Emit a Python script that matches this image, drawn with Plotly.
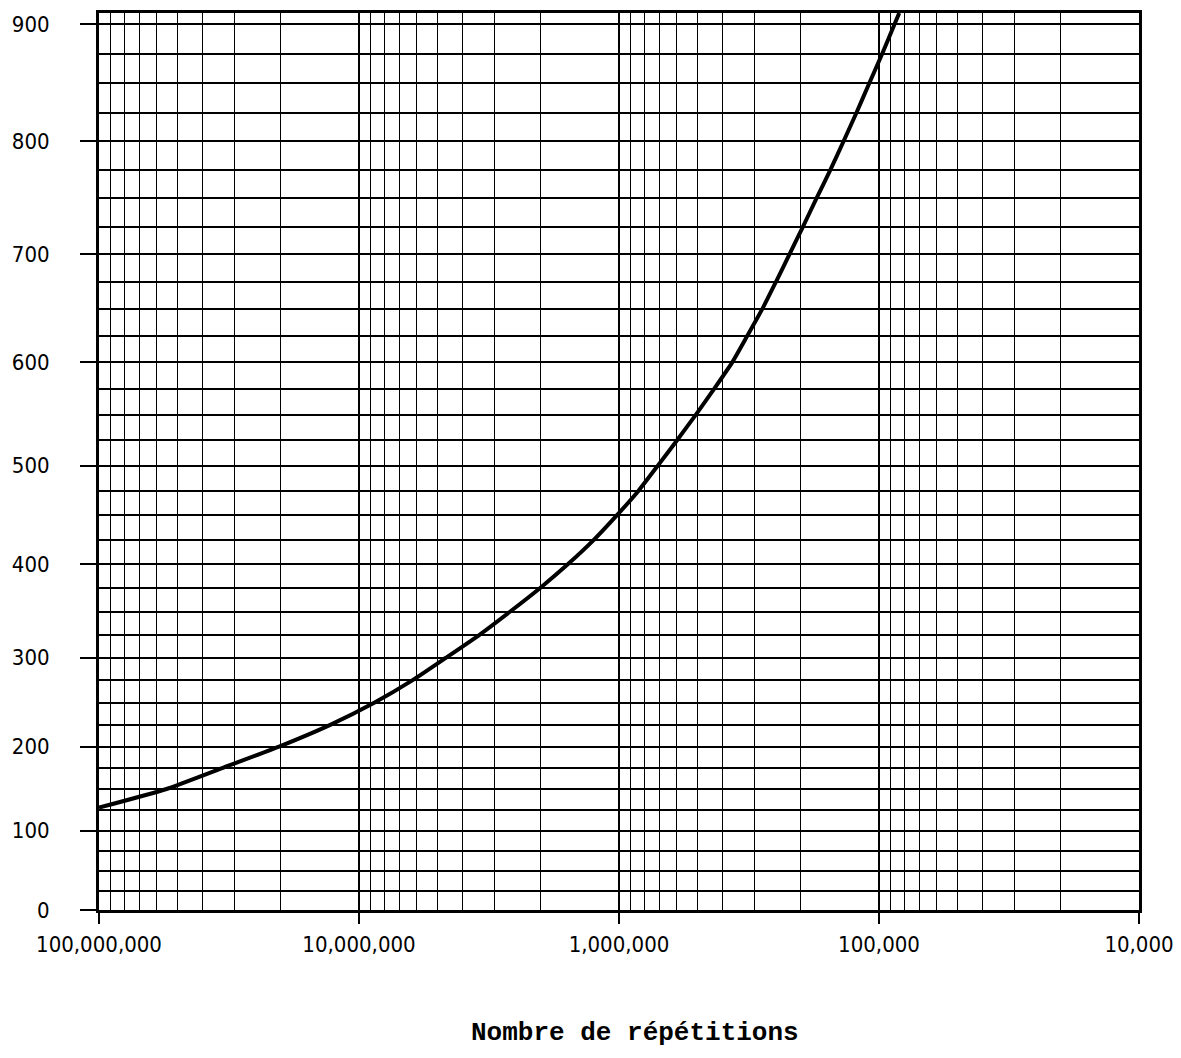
import plotly.graph_objects as go

# ---- data ----
repetitions = [1.0e8, 5.54e7, 3.36e7, 2.03e7, 1.29e7, 8.74e6, 6.24e6, 4.63e6, 3.44e6,
               2.62e6, 2.01e6, 1.57e6, 1.25e6, 1.02e6, 8.41e5, 7.09e5, 5.98e5,
               5.06e5, 4.30e5, 3.67e5, 3.21e5, 2.81e5, 2.49e5, 2.21e5, 1.96e5,
               1.74e5, 1.54e5, 1.37e5, 1.22e5, 1.09e5, 9.72e4, 8.70e4, 8.36e4]
values = [128, 150, 175, 200, 225, 250, 275, 300, 325,
          350, 375, 400, 425, 450, 475, 500, 525,
          550, 575, 600, 625, 650, 675, 700, 725,
          750, 775, 800, 825, 850, 875, 900, 909]

x_major = [1e8, 1e7, 1e6, 1e5, 1e4]
x_labels = ["100,000,000", "10,000,000", "1,000,000", "100,000", "10,000"]
y_major = [0, 100, 200, 300, 400, 500, 600, 700, 800, 900]
y_labels = ["0", "100", "200", "300", "400", "500", "600", "700", "800", "900"]
y_minor = [v for v in range(25, 900, 25) if v % 100 != 0]
y_top = 909
x_title = "Nombre de répétitions"

# The reference's vertical scale is not uniform: intervals widen upward.
# Model it as a quadratic scale s(v) = v + K*v^2 (fitted to the tick positions).
K = 0.0003117


def yscale(v):
    return v + K * v * v


x_minor = [k * 10 ** e for e in range(4, 8) for k in range(2, 10)]

fig = go.Figure()
fig.add_trace(go.Scatter(
    x=repetitions,
    y=[yscale(v) for v in values],
    mode="lines",
    line=dict(color="black", width=4, shape="spline", smoothing=0.5),
    hoverinfo="skip",
    showlegend=False,
))

tick_font = dict(family="DejaVu Sans Condensed, DejaVu Sans, sans-serif",
                 size=22, color="black")

fig.update_xaxes(
    type="log",
    range=[8, 4],
    tickmode="array",
    tickvals=x_major,
    ticktext=x_labels,
    ticks="outside",
    ticklen=11,
    tickwidth=2,
    tickcolor="black",
    showgrid=True,
    gridcolor="black",
    gridwidth=1.6,
    minor=dict(tickmode="array", tickvals=x_minor, showgrid=True,
               gridcolor="black", gridwidth=1.2, ticks=""),
    showline=True,
    linecolor="black",
    linewidth=3,
    mirror=True,
    zeroline=False,
    tickfont=tick_font,
    ticklabelstandoff=2,
    ticklabeloverflow="allow",
    automargin=False,
)

fig.update_yaxes(
    range=[0, yscale(y_top)],
    tickmode="array",
    tickvals=[yscale(v) for v in y_major],
    ticktext=y_labels,
    ticks="outside",
    ticklen=16,
    tickwidth=2,
    tickcolor="black",
    showgrid=True,
    gridcolor="black",
    gridwidth=2,
    minor=dict(tickmode="array", tickvals=[yscale(v) for v in y_minor],
               showgrid=True, gridcolor="black", gridwidth=2, ticks=""),
    showline=True,
    linecolor="black",
    linewidth=3,
    mirror=True,
    zeroline=False,
    tickfont=tick_font,
    ticklabelstandoff=26,
    ticklabeloverflow="allow",
    automargin=False,
)

fig.add_annotation(
    text="<b>" + x_title + "</b>",
    xref="paper", yref="paper",
    x=0.515, y=-0.137,
    xanchor="center", yanchor="middle",
    showarrow=False,
    font=dict(family="Liberation Mono, Courier New, monospace", size=26, color="black"),
)

# the page body has an 8px margin; size the figure so the page is exactly the window
fig.update_layout(
    width=1165,
    height=1042,
    margin=dict(l=91, r=34, t=5, b=140),
    paper_bgcolor="white",
    plot_bgcolor="white",
)

fig.write_html("out.html")
